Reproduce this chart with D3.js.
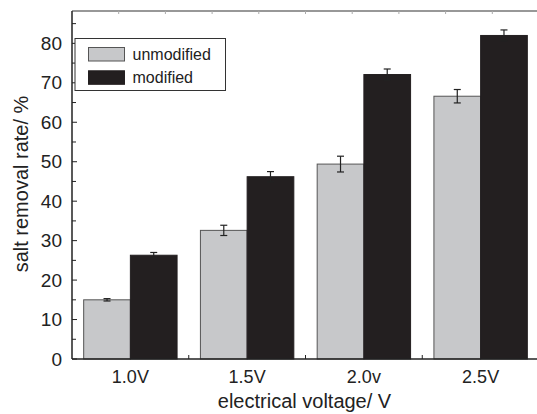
<!DOCTYPE html>
<html>
<head>
<meta charset="utf-8">
<script src="https://cdn.jsdelivr.net/npm/d3@7"></script>
<style>
  body { margin: 0; background: #fff; }
  svg { display: block; font-family: "Liberation Sans", Arial, sans-serif; }
</style>
</head>
<body>
<div id="chart"></div>
<script>
var categories = ["1.0V", "1.5V", "2.0v", "2.5V"];
var seriesNames = ["unmodified", "modified"];
var unmodified = [15.0, 32.6, 49.4, 66.6];
var modified = [26.3, 46.2, 72.1, 82.0];
var unmodifiedErr = [0.3, 1.3, 2.0, 1.7];
var modifiedErr = [0.7, 1.3, 1.4, 1.4];
var yTicks = [0, 10, 20, 30, 40, 50, 60, 70, 80];

var colors = { unmodified: "#c7c8ca", modified: "#231f20" };

var w = 537, h = 414;
var m = { top: 11, right: -2, bottom: 55, left: 72 };
var iw = w - m.left - m.right, ih = h - m.top - m.bottom;

var svg = d3.select("#chart").append("svg").attr("width", w).attr("height", h);
var g = svg.append("g").attr("transform", "translate(" + m.left + "," + m.top + ")");

var x0 = d3.scaleBand().domain(categories).range([0, iw]).padding(0);
var x1 = d3.scaleBand().domain(seriesNames).range([0, x0.bandwidth()]).paddingInner(0).paddingOuter(0.25);
var y = d3.scaleLinear().domain([0, 88.2]).range([ih, 0]);

var rows = categories.map(function(c, i) {
  return { cat: c, values: [
    { key: "unmodified", v: unmodified[i], e: unmodifiedErr[i] },
    { key: "modified", v: modified[i], e: modifiedErr[i] }
  ] };
});

// bars
var grp = g.selectAll("g.grp").data(rows).enter().append("g").attr("class", "grp")
  .attr("transform", function(d) { return "translate(" + x0(d.cat) + ",0)"; });
grp.selectAll("rect").data(function(d) { return d.values; }).enter().append("rect")
  .attr("x", function(d) { return x1(d.key); })
  .attr("y", function(d) { return y(d.v); })
  .attr("width", x1.bandwidth())
  .attr("height", function(d) { return y(0) - y(d.v); })
  .attr("fill", function(d) { return colors[d.key]; })
  .attr("stroke", function(d) { return d.key == "unmodified" ? "#555" : "#231f20"; })
  .attr("stroke-width", 1);

// error bars
var eb = grp.selectAll("g.err").data(function(d) { return d.values; }).enter().append("g").attr("class", "err")
  .attr("stroke", "#222").attr("stroke-width", 1.2);
eb.append("line")
  .attr("x1", function(d) { return x1(d.key) + x1.bandwidth() / 2; })
  .attr("x2", function(d) { return x1(d.key) + x1.bandwidth() / 2; })
  .attr("y1", function(d) { return y(d.v - d.e); })
  .attr("y2", function(d) { return y(d.v + d.e); });
[-1, 1].forEach(function(s) {
  eb.append("line")
    .attr("x1", function(d) { return x1(d.key) + x1.bandwidth() / 2 - 3.5; })
    .attr("x2", function(d) { return x1(d.key) + x1.bandwidth() / 2 + 3.5; })
    .attr("y1", function(d) { return y(d.v + s * d.e); })
    .attr("y2", function(d) { return y(d.v + s * d.e); });
});

// left axis
var yAxis = g.append("g").call(d3.axisLeft(y).tickValues(yTicks).tickSize(0).tickPadding(10));
yAxis.select(".domain").remove();
yAxis.selectAll("text").attr("font-size", 19).attr("fill", "#222").attr("font-family", "Liberation Sans, Arial, sans-serif");
var minor = d3.range(0, 88, 5);
g.append("g").selectAll("line").data(minor).enter().append("line")
  .attr("x1", 0).attr("x2", function(d) { return d % 10 == 0 ? 5 : 4; })
  .attr("y1", function(d) { return y(d); }).attr("y2", function(d) { return y(d); })
  .attr("stroke", "#222").attr("stroke-width", 1);
g.append("line").attr("x1", 0).attr("x2", 0).attr("y1", 0).attr("y2", ih)
  .attr("stroke", "#222").attr("stroke-width", 1.5);

// bottom axis
var xAxis = g.append("g").attr("transform", "translate(0," + ih + ")")
  .call(d3.axisBottom(x0).tickSize(0).tickPadding(11));
xAxis.select(".domain").remove();
xAxis.selectAll("text").attr("font-size", 18).attr("fill", "#222").attr("font-family", "Liberation Sans, Arial, sans-serif");
g.append("line").attr("x1", 0).attr("x2", iw).attr("y1", ih).attr("y2", ih)
  .attr("stroke", "#222").attr("stroke-width", 1.5);
g.append("g").selectAll("line").data(categories.slice(1)).enter().append("line")
  .attr("x1", function(d) { return x0(d); }).attr("x2", function(d) { return x0(d); })
  .attr("y1", ih).attr("y2", ih - 4).attr("stroke", "#222");

// top border with faint ticks
g.append("line").attr("x1", 0).attr("x2", iw).attr("y1", 0).attr("y2", 0)
  .attr("stroke", "#333").attr("stroke-width", 1.2);
g.append("g").selectAll("line").data(d3.range(1, 10)).enter().append("line")
  .attr("x1", function(d) { return d * x0.step() / 2.5; }).attr("x2", function(d) { return d * x0.step() / 2.5; })
  .attr("y1", 0).attr("y2", 3).attr("stroke", "#aaa");

// axis titles
svg.append("text").attr("x", m.left + iw / 2 - 1).attr("y", 408).attr("text-anchor", "middle")
  .attr("font-size", 20).attr("fill", "#222").text("electrical voltage/ V");
svg.append("text").attr("transform", "translate(28,184) rotate(-90)").attr("text-anchor", "middle")
  .attr("font-size", 20).attr("fill", "#222").text("salt removal rate/ %");

// legend
var lg = svg.append("g").attr("transform", "translate(75,38.5)");
lg.append("rect").attr("width", 150.5).attr("height", 52).attr("fill", "#fff").attr("stroke", "#333").attr("stroke-width", 1);
seriesNames.forEach(function(s, i) {
  lg.append("rect").attr("x", 13.5).attr("y", 9 + i * 23.3).attr("width", 36).attr("height", 13.5)
    .attr("fill", colors[s]).attr("stroke", s == "unmodified" ? "#555" : "#231f20");
  lg.append("text").attr("x", 57.5).attr("y", 16 + i * 23.3).attr("dy", "0.35em")
    .attr("font-size", 16).attr("fill", "#222").text(s);
});
</script>
</body>
</html>
